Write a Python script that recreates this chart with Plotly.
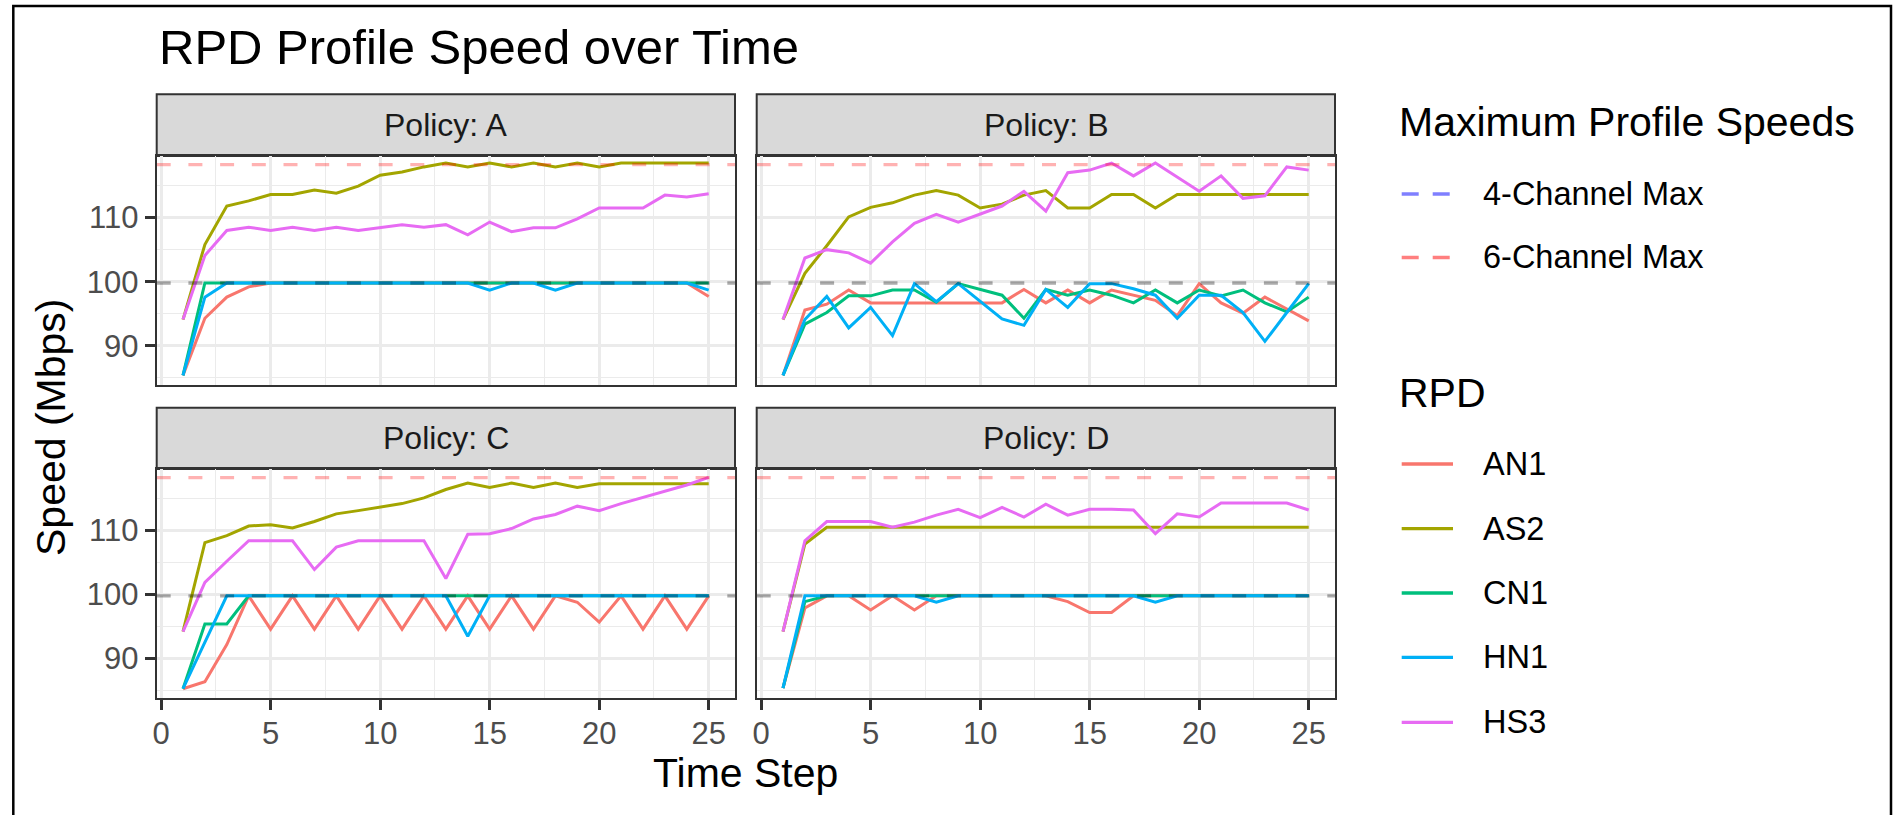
import plotly.graph_objects as go

# ---------------- data ----------------
time_step = [1, 2, 3, 4, 5, 6, 7, 8, 9, 10, 11, 12, 13, 14, 15, 16, 17, 18, 19, 20, 21, 22, 23, 24, 25]
x_tick_vals = [0, 5, 10, 15, 20, 25]
y_tick_vals = [90, 100, 110]

policies = ["A", "B", "C", "D"]
rpd_names = ["AN1", "AS2", "CN1", "HN1", "HS3"]
rpd_colors = ["#F8766D", "#A3A500", "#00BF7D", "#00B0F6", "#E76BF3"]

max_names = ["4-Channel Max", "6-Channel Max"]
four_channel_max = 99.8
six_channel_max = 118.25

# Policy A
a_an1 = [85.4, 94.3, 97.6, 99.2, 99.8, 99.8, 99.8, 99.8, 99.8, 99.8, 99.8, 99.8, 99.8, 99.8, 99.8, 99.8, 99.8, 99.8, 99.8, 99.8, 99.8, 99.8, 99.8, 99.8, 97.7]
a_as2 = [94.1, 105.8, 111.8, 112.6, 113.6, 113.6, 114.3, 113.8, 114.9, 116.6, 117.1, 117.9, 118.5, 117.9, 118.5, 117.9, 118.5, 117.9, 118.5, 117.9, 118.5, 118.5, 118.5, 118.5, 118.5]
a_cn1 = [85.4, 99.8, 99.8, 99.8, 99.8, 99.8, 99.8, 99.8, 99.8, 99.8, 99.8, 99.8, 99.8, 99.8, 99.8, 99.8, 99.8, 99.8, 99.8, 99.8, 99.8, 99.8, 99.8, 99.8, 99.8]
a_hn1 = [85.4, 97.6, 99.8, 99.8, 99.8, 99.8, 99.8, 99.8, 99.8, 99.8, 99.8, 99.8, 99.8, 99.8, 98.7, 99.8, 99.8, 98.7, 99.8, 99.8, 99.8, 99.8, 99.8, 99.8, 98.7]
a_hs3 = [94.1, 104.1, 108.0, 108.5, 108.0, 108.5, 108.0, 108.5, 108.0, 108.5, 108.9, 108.5, 108.9, 107.3, 109.3, 107.8, 108.4, 108.4, 109.8, 111.5, 111.5, 111.5, 113.5, 113.2, 113.7]

# Policy B
b_an1 = [85.4, 95.6, 96.5, 98.7, 96.7, 96.7, 96.7, 96.7, 96.7, 96.7, 96.7, 98.8, 96.7, 98.7, 96.7, 98.7, 97.9, 97.1, 94.7, 99.7, 96.7, 95.1, 97.6, 95.8, 93.9]
b_as2 = [94.1, 101.3, 105.6, 110.1, 111.6, 112.3, 113.5, 114.2, 113.5, 111.5, 112.1, 113.5, 114.2, 111.5, 111.5, 113.6, 113.6, 111.5, 113.6, 113.6, 113.6, 113.6, 113.6, 113.6, 113.6]
b_cn1 = [85.4, 93.4, 95.2, 97.8, 97.8, 98.7, 98.7, 96.8, 99.7, 98.8, 97.9, 94.3, 98.8, 97.9, 98.7, 97.9, 96.7, 98.7, 96.7, 98.7, 97.8, 98.7, 96.7, 95.3, 97.6]
b_hn1 = [85.4, 94.1, 97.7, 92.8, 96.0, 91.6, 99.7, 96.9, 99.7, 97.0, 94.2, 93.2, 98.8, 96.0, 99.7, 99.7, 98.9, 97.9, 94.3, 97.9, 97.9, 95.2, 90.7, 95.2, 99.7]
b_hs3 = [94.1, 103.7, 105.0, 104.5, 102.9, 106.2, 109.1, 110.5, 109.3, 110.6, 111.8, 114.1, 111.0, 117.0, 117.4, 118.5, 116.5, 118.5, 116.3, 114.1, 116.5, 113.0, 113.4, 117.9, 117.4]

# Policy C
c_an1 = [85.3, 86.4, 92.2, 99.8, 94.6, 99.8, 94.6, 99.8, 94.6, 99.8, 94.6, 99.8, 94.6, 99.8, 94.6, 99.8, 94.6, 99.8, 98.8, 95.7, 99.8, 94.6, 99.8, 94.6, 99.8]
c_as2 = [94.2, 108.1, 109.2, 110.7, 110.9, 110.4, 111.4, 112.6, 113.1, 113.6, 114.2, 115.1, 116.4, 117.4, 116.7, 117.4, 116.7, 117.4, 116.7, 117.3, 117.3, 117.3, 117.3, 117.3, 117.3]
c_cn1 = [85.3, 95.4, 95.4, 99.8, 99.8, 99.8, 99.8, 99.8, 99.8, 99.8, 99.8, 99.8, 99.8, 99.8, 99.8, 99.8, 99.8, 99.8, 99.8, 99.8, 99.8, 99.8, 99.8, 99.8, 99.8]
c_hn1 = [85.3, 92.6, 99.8, 99.8, 99.8, 99.8, 99.8, 99.8, 99.8, 99.8, 99.8, 99.8, 99.8, 93.5, 99.8, 99.8, 99.8, 99.8, 99.8, 99.8, 99.8, 99.8, 99.8, 99.8, 99.8]
c_hs3 = [94.2, 101.9, 105.2, 108.4, 108.4, 108.4, 103.9, 107.4, 108.4, 108.4, 108.4, 108.4, 102.5, 109.4, 109.5, 110.3, 111.8, 112.5, 113.8, 113.1, 114.2, 115.2, 116.1, 117.1, 118.3]

# Policy D
d_an1 = [85.4, 97.9, 99.8, 99.8, 97.6, 99.8, 97.6, 99.8, 99.8, 99.8, 99.8, 99.8, 99.8, 98.9, 97.2, 97.2, 99.8, 99.8, 99.8, 99.8, 99.8, 99.8, 99.8, 99.8, 99.8]
d_as2 = [94.2, 107.9, 110.5, 110.5, 110.5, 110.5, 110.5, 110.5, 110.5, 110.5, 110.5, 110.5, 110.5, 110.5, 110.5, 110.5, 110.5, 110.5, 110.5, 110.5, 110.5, 110.5, 110.5, 110.5, 110.5]
d_cn1 = [85.4, 98.9, 99.8, 99.8, 99.8, 99.8, 99.8, 99.8, 99.8, 99.8, 99.8, 99.8, 99.8, 99.8, 99.8, 99.8, 99.8, 99.8, 99.8, 99.8, 99.8, 99.8, 99.8, 99.8, 99.8]
d_hn1 = [85.4, 99.8, 99.8, 99.8, 99.8, 99.8, 99.8, 98.8, 99.8, 99.8, 99.8, 99.8, 99.8, 99.8, 99.8, 99.8, 99.8, 98.8, 99.8, 99.8, 99.8, 99.8, 99.8, 99.8, 99.8]
d_hs3 = [94.2, 108.4, 111.4, 111.4, 111.4, 110.5, 111.3, 112.4, 113.3, 112.0, 113.6, 112.1, 114.1, 112.4, 113.3, 113.3, 113.2, 109.5, 112.6, 112.1, 114.3, 114.3, 114.3, 114.3, 113.2]

speeds = {
    "A": [a_an1, a_as2, a_cn1, a_hn1, a_hs3],
    "B": [b_an1, b_as2, b_cn1, b_hn1, b_hs3],
    "C": [c_an1, c_as2, c_cn1, c_hn1, c_hs3],
    "D": [d_an1, d_as2, d_cn1, d_hn1, d_hs3],
}

# ---------------- layout constants (pixels) ----------------
W, H = 1895, 815
FONT = "Liberation Sans, Arial, Helvetica, sans-serif"
X_RANGE = [-0.2, 26.2]
Y_RANGE = [83.9, 119.6]
col_px = [(156.7, 735.0), (756.7, 1335.0)]
row_plot_px = [(156.0, 385.0), (469.0, 697.7)]
row_strip_px = [(94.3, 156.0), (407.7, 469.0)]


def px(x):
    return x / W


def py(y):
    return 1 - y / H


fig = go.Figure()
layout = dict(
    width=W, height=H,
    margin=dict(l=0, r=0, t=0, b=0),
    paper_bgcolor="white", plot_bgcolor="white",
    showlegend=False, template="none",
    font=dict(family=FONT, color="#000000"),
)
shapes = []
annotations = []

for i, pol in enumerate(policies):
    r, c = divmod(i, 2)
    suffix = "" if i == 0 else str(i + 1)
    xname, yname = "x" + suffix, "y" + suffix
    bottom = r == 1
    left = c == 0
    layout["xaxis" + suffix] = dict(
        domain=[px(col_px[c][0]), px(col_px[c][1])],
        anchor=yname, range=X_RANGE, tickmode="array", tickvals=x_tick_vals,
        showgrid=True, gridcolor="#EBEBEB", gridwidth=2.7,
        minor=dict(tickmode="array", tickvals=[2.5, 7.5, 12.5, 17.5, 22.5],
                   showgrid=True, gridcolor="#EBEBEB", gridwidth=1.4),
        zeroline=False, showline=True, mirror=True, linecolor="#333333", linewidth=2,
        ticks="outside" if bottom else "", ticklen=10, tickwidth=2.7, tickcolor="#333333",
        showticklabels=bottom, tickfont=dict(size=31, color="#4D4D4D", family=FONT),
        ticklabelstandoff=-3,
        automargin=False, fixedrange=True,
    )
    layout["yaxis" + suffix] = dict(
        domain=[py(row_plot_px[r][1]), py(row_plot_px[r][0])],
        anchor=xname, range=Y_RANGE, tickmode="array", tickvals=y_tick_vals,
        showgrid=True, gridcolor="#EBEBEB", gridwidth=2.7,
        minor=dict(tickmode="array", tickvals=[85, 95, 105, 115],
                   showgrid=True, gridcolor="#EBEBEB", gridwidth=1.4),
        zeroline=False, showline=True, mirror=True, linecolor="#333333", linewidth=2,
        ticks="outside" if left else "", ticklen=10, tickwidth=2.7, tickcolor="#333333",
        showticklabels=left, tickfont=dict(size=31, color="#4D4D4D", family=FONT),
        automargin=False, fixedrange=True,
    )
    # data lines
    for name, color, ys in zip(rpd_names, rpd_colors, speeds[pol]):
        fig.add_trace(go.Scatter(
            x=time_step, y=ys, mode="lines", name=name,
            line=dict(color=color, width=3), xaxis=xname, yaxis=yname,
            hoverinfo="x+y+name",
        ))
    # max-speed reference lines
    fig.add_trace(go.Scatter(
        x=X_RANGE, y=[four_channel_max, four_channel_max], mode="lines",
        name=max_names[0], line=dict(color="rgba(0,0,0,0.33)", width=3.3, dash="14px,17.7px"),
        xaxis=xname, yaxis=yname, hoverinfo="skip",
    ))
    fig.add_trace(go.Scatter(
        x=X_RANGE, y=[six_channel_max, six_channel_max], mode="lines",
        name=max_names[1], line=dict(color="rgba(255,0,0,0.3)", width=3.3, dash="14px,17.7px"),
        xaxis=xname, yaxis=yname, hoverinfo="skip",
    ))
    # strip
    sx0, sx1 = col_px[c]
    sy0, sy1 = row_strip_px[r]
    shapes.append(dict(type="rect", xref="paper", yref="paper",
                       x0=px(sx0), x1=px(sx1), y0=py(sy1), y1=py(sy0),
                       fillcolor="#D9D9D9", line=dict(color="#333333", width=2), layer="below"))
    annotations.append(dict(text="Policy: " + pol, xref="paper", yref="paper",
                            x=px((sx0 + sx1) / 2), y=py((sy0 + sy1) / 2),
                            xanchor="center", yanchor="middle", showarrow=False,
                            font=dict(size=32, color="#1A1A1A", family=FONT)))

# outer border
shapes.append(dict(type="rect", xref="paper", yref="paper",
                   x0=px(13.3), x1=px(1891), y0=-0.1, y1=py(6),
                   line=dict(color="#000000", width=2.5), fillcolor="rgba(0,0,0,0)", layer="above"))

# titles
annotations.append(dict(text="RPD Profile Speed over Time", xref="paper", yref="paper",
                        x=px(157), y=py(47), xanchor="left", yanchor="middle", showarrow=False,
                        font=dict(size=49, color="#000000", family=FONT)))
annotations.append(dict(text="Time Step", xref="paper", yref="paper",
                        x=px((col_px[0][0] + col_px[1][1]) / 2), y=py(773), xanchor="center",
                        yanchor="middle", showarrow=False,
                        font=dict(size=41, color="#000000", family=FONT)))
annotations.append(dict(text="Speed (Mbps)", xref="paper", yref="paper",
                        x=px(51), y=py(427), xanchor="center", yanchor="middle",
                        textangle=-90, showarrow=False,
                        font=dict(size=41, color="#000000", family=FONT)))

# manual legends
LEG_X0, LEG_X1_DASH, LEG_X1_LINE, LEG_TEXT_X = 1401.7, 1450.0, 1453.0, 1481.0
annotations.append(dict(text="Maximum Profile Speeds", xref="paper", yref="paper",
                        x=px(1396.7), y=py(122), xanchor="left", yanchor="middle",
                        showarrow=False, font=dict(size=41, color="#000000", family=FONT)))
max_colors = ["rgba(0,0,255,0.5)", "rgba(255,0,0,0.5)"]
max_y = [194.0, 257.5]
for name, col, yy in zip(max_names, max_colors, max_y):
    shapes.append(dict(type="line", xref="paper", yref="paper",
                       x0=px(LEG_X0), x1=px(LEG_X1_DASH), y0=py(yy), y1=py(yy),
                       line=dict(color=col, width=3.3, dash="17px,14px")))
    annotations.append(dict(text=name, xref="paper", yref="paper",
                            x=px(LEG_TEXT_X), y=py(yy), xanchor="left", yanchor="middle",
                            showarrow=False, font=dict(size=32.5, color="#000000", family=FONT)))

annotations.append(dict(text="RPD", xref="paper", yref="paper",
                        x=px(1396.7), y=py(392.5), xanchor="left", yanchor="middle",
                        showarrow=False, font=dict(size=41, color="#000000", family=FONT)))
rpd_y = [464.0, 528.7, 593.0, 657.3, 722.3]
for name, col, yy in zip(rpd_names, rpd_colors, rpd_y):
    shapes.append(dict(type="line", xref="paper", yref="paper",
                       x0=px(LEG_X0), x1=px(LEG_X1_LINE), y0=py(yy), y1=py(yy),
                       line=dict(color=col, width=3.3)))
    annotations.append(dict(text=name, xref="paper", yref="paper",
                            x=px(LEG_TEXT_X), y=py(yy), xanchor="left", yanchor="middle",
                            showarrow=False, font=dict(size=32.5, color="#000000", family=FONT)))

layout["shapes"] = shapes
layout["annotations"] = annotations
fig.update_layout(**layout)
fig.write_html("out.html")
